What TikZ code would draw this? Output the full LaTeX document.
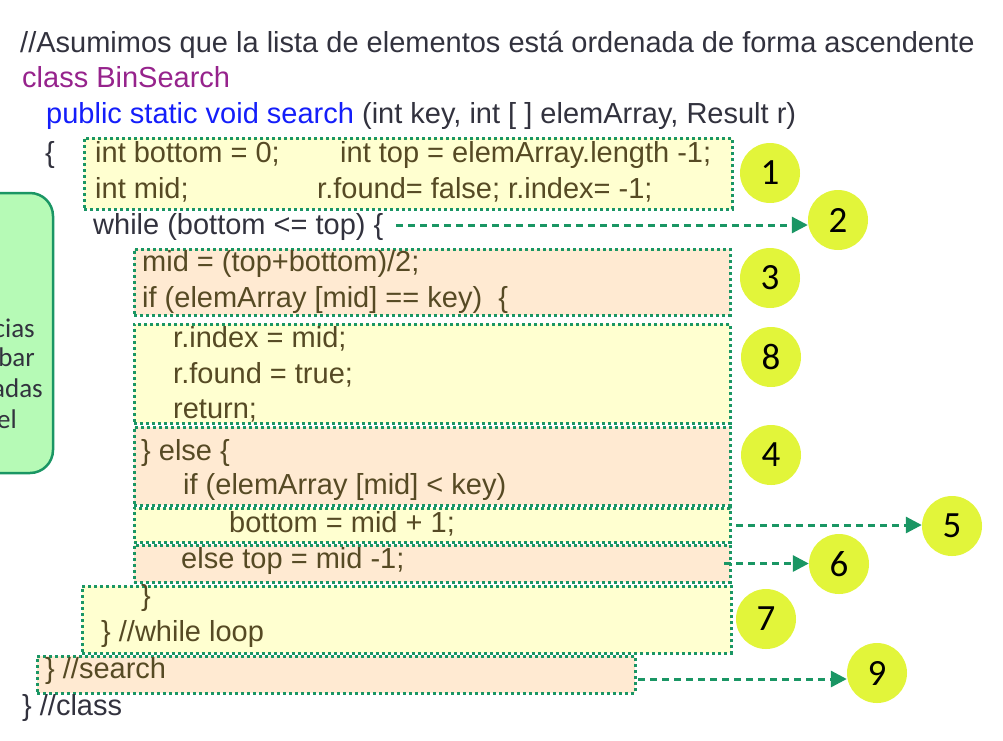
\documentclass[tikz,border=0pt]{standalone}
\usepackage{fontspec}
\setmainfont{Liberation Sans}
\newfontfamily\notefont{Carlito}
\usetikzlibrary{arrows.meta}
\definecolor{dotgreen}{RGB}{26,150,100}
\definecolor{paleyellow}{RGB}{255,255,208}
\definecolor{paleorange}{RGB}{255,234,210}
\definecolor{lime}{RGB}{226,245,58}
\definecolor{boxtext}{RGB}{86,74,36}
\definecolor{plaintext}{RGB}{50,50,62}
\definecolor{keyblue}{RGB}{20,30,250}
\definecolor{classpurple}{RGB}{150,35,140}
\definecolor{notegreen}{RGB}{182,250,182}
\begin{document}
\begin{tikzpicture}[x=1pt,y=-1pt,
    code/.style={anchor=base west, inner sep=0pt, text=plaintext, font=\fontsize{29}{34}\selectfont},
    incode/.style={code, text=boxtext},
    ybox/.style={draw=dotgreen, fill=paleyellow, line width=3pt, dash pattern=on 3pt off 3pt,
      anchor=north west, inner sep=0pt, outer sep=0pt},
    obox/.style={ybox, fill=paleorange},
    num/.style={circle, fill=lime, minimum size=60pt, inner sep=0pt, font=\notefont\fontsize{37}{40}\selectfont},
    flow/.style={draw=dotgreen, line width=3pt, dash pattern=on 7pt off 5pt, -{Triangle[length=16pt,width=16pt]}},
    note/.style={anchor=base east, inner sep=0pt, text=plaintext, font=\notefont\fontsize{27}{30}\selectfont}]
    \path[use as bounding box, clip] (0,0) rectangle (1003,740);
        % Note box, cut off at the left
        \draw[draw=dotgreen, fill=notegreen, line width=2.5pt, rounded corners=23pt] (-60,193) rectangle (53,473);
        \node[note] (n1) at (35,337) {cias};
        \node[note] (n2) at (35,366) {obar};
        \node[note] (n3) at (43,397) {adas};
        \node[note] (n4) at (17,428) {el};
        % Boxes
        \node[ybox, minimum width=648pt, minimum height=71pt] (b1) at (84,138) {};
        \node[obox, minimum width=596pt, minimum height=66pt] (b3) at (134,249) {};
        \node[ybox, minimum width=596pt, minimum height=99pt] (b8) at (134,324) {};
        \node[obox, minimum width=596pt, minimum height=78pt] (b4) at (134,427) {};
        \node[ybox, minimum width=596pt, minimum height=34pt] (b5) at (134,508) {};
        \node[obox, minimum width=596pt, minimum height=37pt] (b6) at (134,545) {};
        \node[ybox, minimum width=649pt, minimum height=67pt] (b7) at (82,586) {};
        \node[obox, minimum width=598pt, minimum height=37pt] (b9) at (37,656) {};
        % Code
        \node[code] (l0) at (20,52) {//Asumimos que la lista de elementos está ordenada de forma ascendente};
        \node[code, text=classpurple] (l1) at (22,87) {class BinSearch};
        \node[code] (l2) at (46,123) {\textcolor{keyblue}{public static void search} (int key, int [ ] elemArray, Result r)};
        \node[code] (l3) at (45,162) {\{};
        \node[incode] (l4) at (95,162) {int bottom = 0;};
        \node[incode] (l5) at (340,162) {int top = elemArray.length -1;};
        \node[incode] (l6) at (95,198) {int mid;};
        \node[incode] (l7) at (317,198) {r.found= false; r.index= -1;};
        \node[code] (w) at (93,234) {while (bottom <= top) \{};
        \node[incode] (l8) at (142,271) {mid = (top+bottom)/2;};
        \node[incode] (l9) at (142,307) {if (elemArray [mid] == key)\ \ \{};
        \node[incode] (l10) at (173,347) {r.index = mid;};
        \node[incode] (l11) at (173,383) {r.found = true;};
        \node[incode] (l12) at (173,418) {return;};
        \node[incode] (l13) at (141,460) {\} else \{};
        \node[incode] (l14) at (183,494) {if (elemArray [mid] < key)};
        \node[incode] (l15) at (229,532) {bottom = mid + 1;};
        \node[incode] (l16) at (181,568) {else top = mid -1;};
        \node[incode] (l17) at (141,605) {\}};
        \node[incode] (l18) at (101,641) {\} //while loop};
        \node[incode] (l19) at (45,678) {\} //search};
        \node[code] (l20) at (22,715) {\} //class};
        % Steps
        \node[num] (c1) at (770,173) {1};
        \node[num] (c2) at (838,220) {2};
        \node[num] (c3) at (770,278) {3};
        \node[num] (c8) at (771,357) {8};
        \node[num] (c4) at (771,455) {4};
        \node[num] (c5) at (952,526) {5};
        \node[num] (c6) at (839,564) {6};
        \node[num] (c7) at (766,619) {7};
        \node[num] (c9) at (877,673) {9};
        % Jumps
        \coordinate (a2) at (396,225);
        \coordinate (a9) at (638,679);
        \draw[flow] (a2) -- (a2 -| c2.west);
        \draw[flow] ([xshift=6pt]b5.east) -- (b5.east -| c5.west);
        \draw[flow] ([xshift=-6pt]b6.east) -- (b6.east -| c6.west);
        \draw[flow] (a9) -- (a9 -| c9.west);
    \end{tikzpicture}
\end{document}
